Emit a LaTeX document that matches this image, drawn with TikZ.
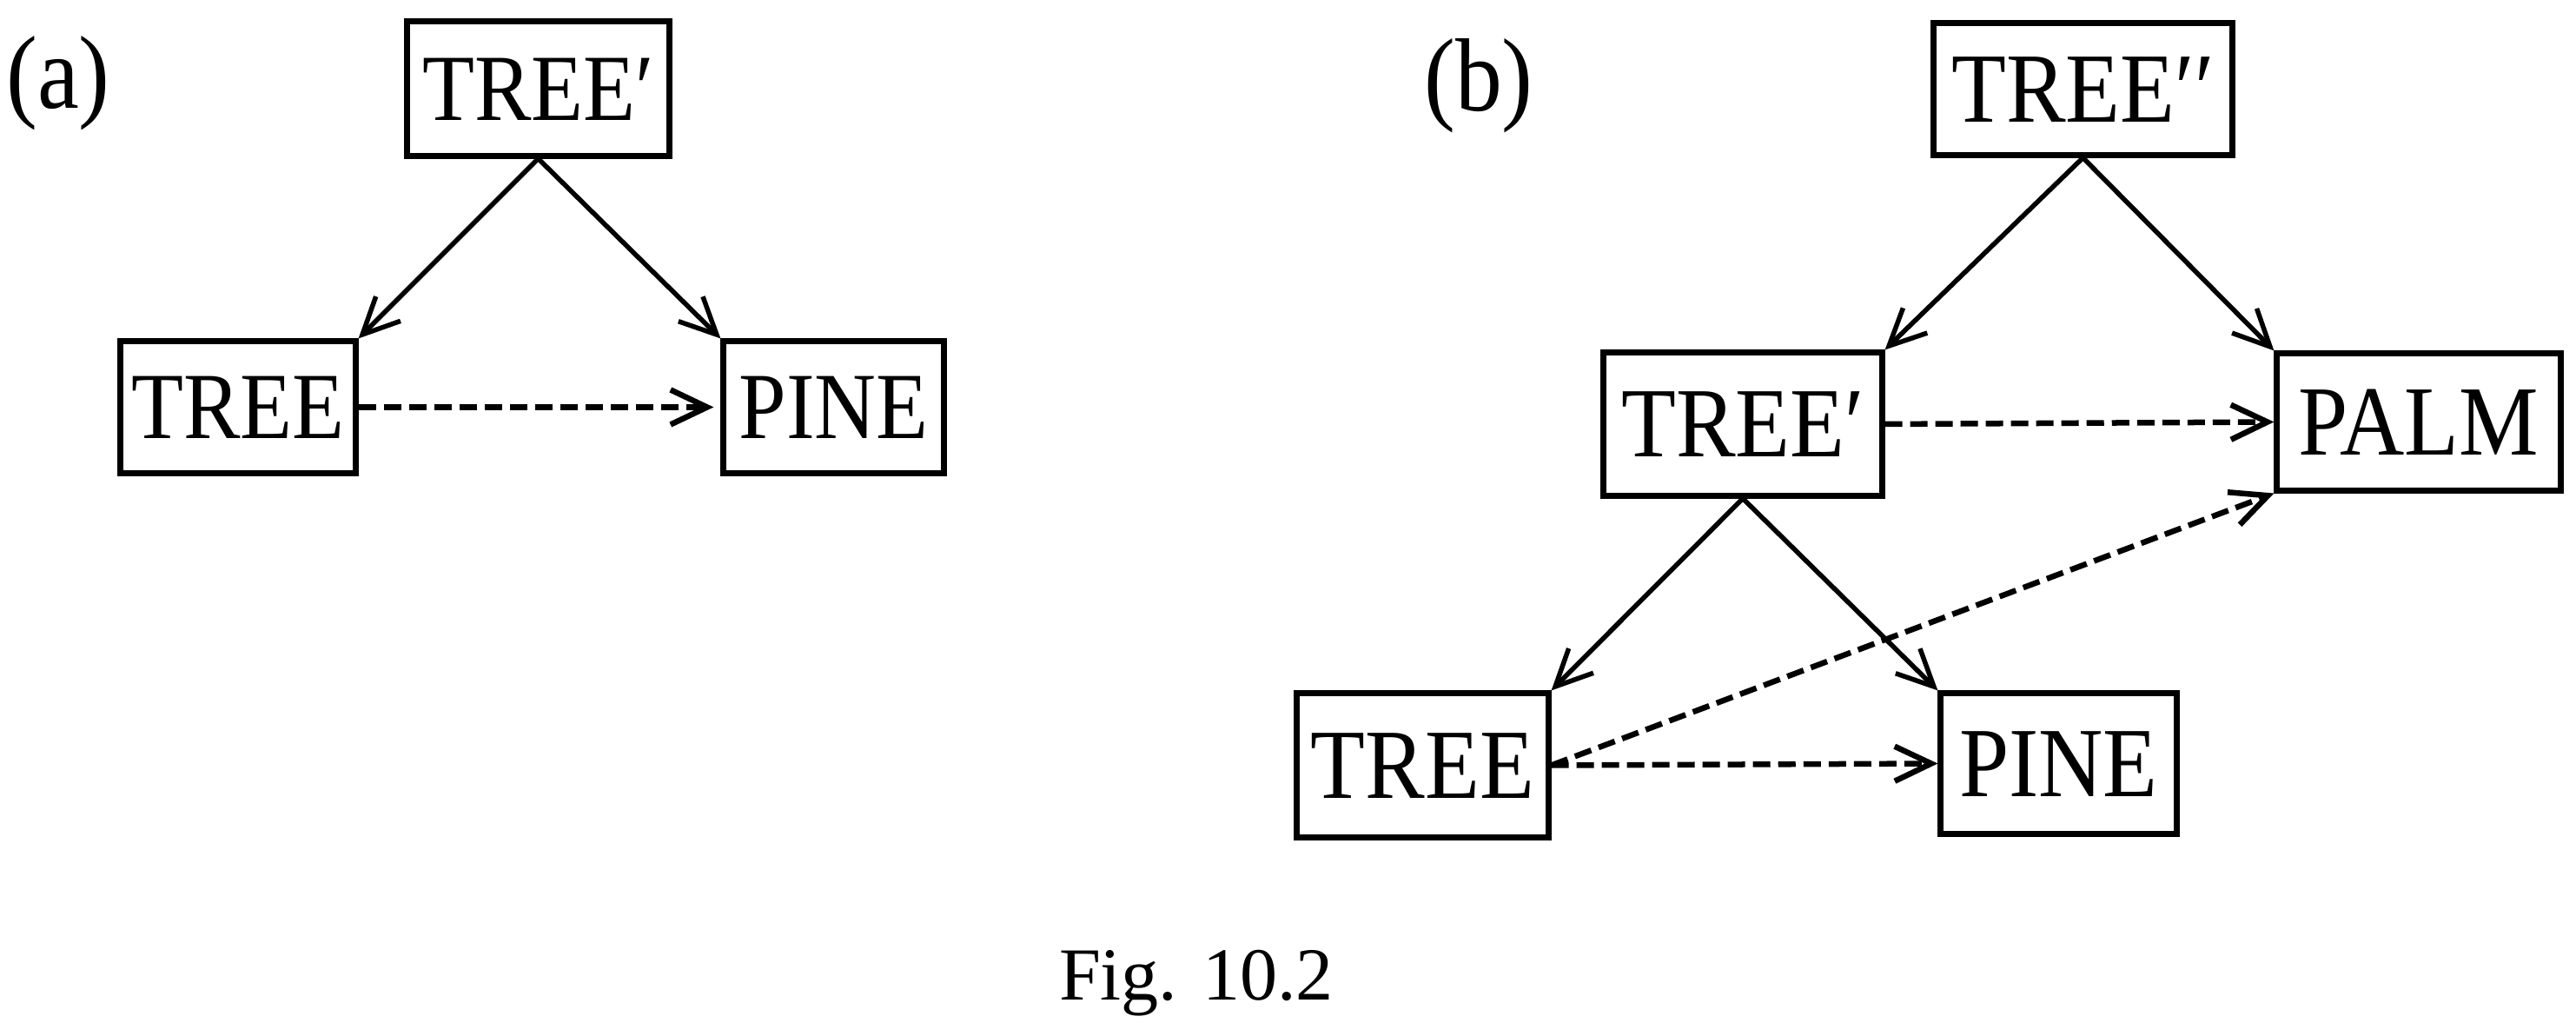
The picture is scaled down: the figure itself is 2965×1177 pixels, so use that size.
\documentclass[tikz,border=0pt]{standalone}
\usepackage{fontspec}
\setmainfont{Liberation Serif}[FakeStretch=0.9]
\newfontfamily\figfont{Liberation Serif}
\usetikzlibrary{arrows.meta}
\begin{document}
\begin{tikzpicture}[x=0.01cm,y=-0.01cm,
  box/.style={draw,line width=0.07cm,inner sep=0pt,text depth=0pt,align=center},
  boxa/.style={box,font=\fontsize{31}{31}\selectfont,text height=20.5pt},
  boxb/.style={box,font=\fontsize{32.5}{32.5}\selectfont,text height=21.5pt},
  solidarrow/.style={line width=0.055cm,-{Straight Barb[length=0.42cm,width=0.4cm]}},
  dasharrow/.style={line width=0.065cm,dash pattern=on 0.2cm off 0.09cm,-{Straight Barb[length=0.42cm,width=0.4cm]}},
  lbl/.style={font=\fontsize{34}{34}\selectfont,inner sep=0pt},
  figlbl/.style={font=\figfont\fontsize{24.5}{24.5}\selectfont,inner sep=0pt,anchor=base}
]
\useasboundingbox (0,0) rectangle (2965,1177);

% (a)
\node[lbl] (la) at (67,95.5) {(a)};
\node[boxa,minimum width=3.01cm,minimum height=1.54cm] (a1) at (619.5,102) {TREE′};
\node[boxa,minimum width=2.70cm,minimum height=1.51cm] (a2) at (274,468.5) {TREE};
\node[boxa,minimum width=2.53cm,minimum height=1.51cm] (a3) at (959.5,468.5) {PINE};
\draw[solidarrow] (a1.south) -- (a2.north east);
\draw[solidarrow] (a1.south) -- (a3.north west);
\draw[dasharrow,shorten >=0.08cm] (a2.east) -- (a3.west);

% (b)
\node[lbl] (lb) at (1702,99) {(b)};
\node[boxb,minimum width=3.43cm,minimum height=1.51cm] (b1) at (2397.5,102.5) {TREE′′};
\node[boxb,minimum width=3.20cm,minimum height=1.64cm] (b2) at (2006,488) {TREE′};
\node[boxb,minimum width=3.26cm,minimum height=1.57cm] (b3) at (2784,485.5) {PALM};
\node[boxb,minimum width=2.89cm,minimum height=1.65cm] (b4) at (1637.5,880.5) {TREE};
\node[boxb,minimum width=2.71cm,minimum height=1.61cm] (b5) at (2369.5,878.5) {PINE};
\draw[solidarrow] (b1.south) -- (b2.north east);
\draw[solidarrow] (b1.south) -- (b3.north west);
\draw[solidarrow] (b2.south) -- (b4.north east);
\draw[solidarrow] (b2.south) -- (b5.north west);
\draw[dasharrow] (b2.east) -- (b3.west);
\draw[dasharrow] (b4.east) -- (b3.south west);
\draw[dasharrow] (b4.east) -- (b5.west);

\node[figlbl] (fig) at (1377,1151) {Fig. 10.2};
\end{tikzpicture}
\end{document}
